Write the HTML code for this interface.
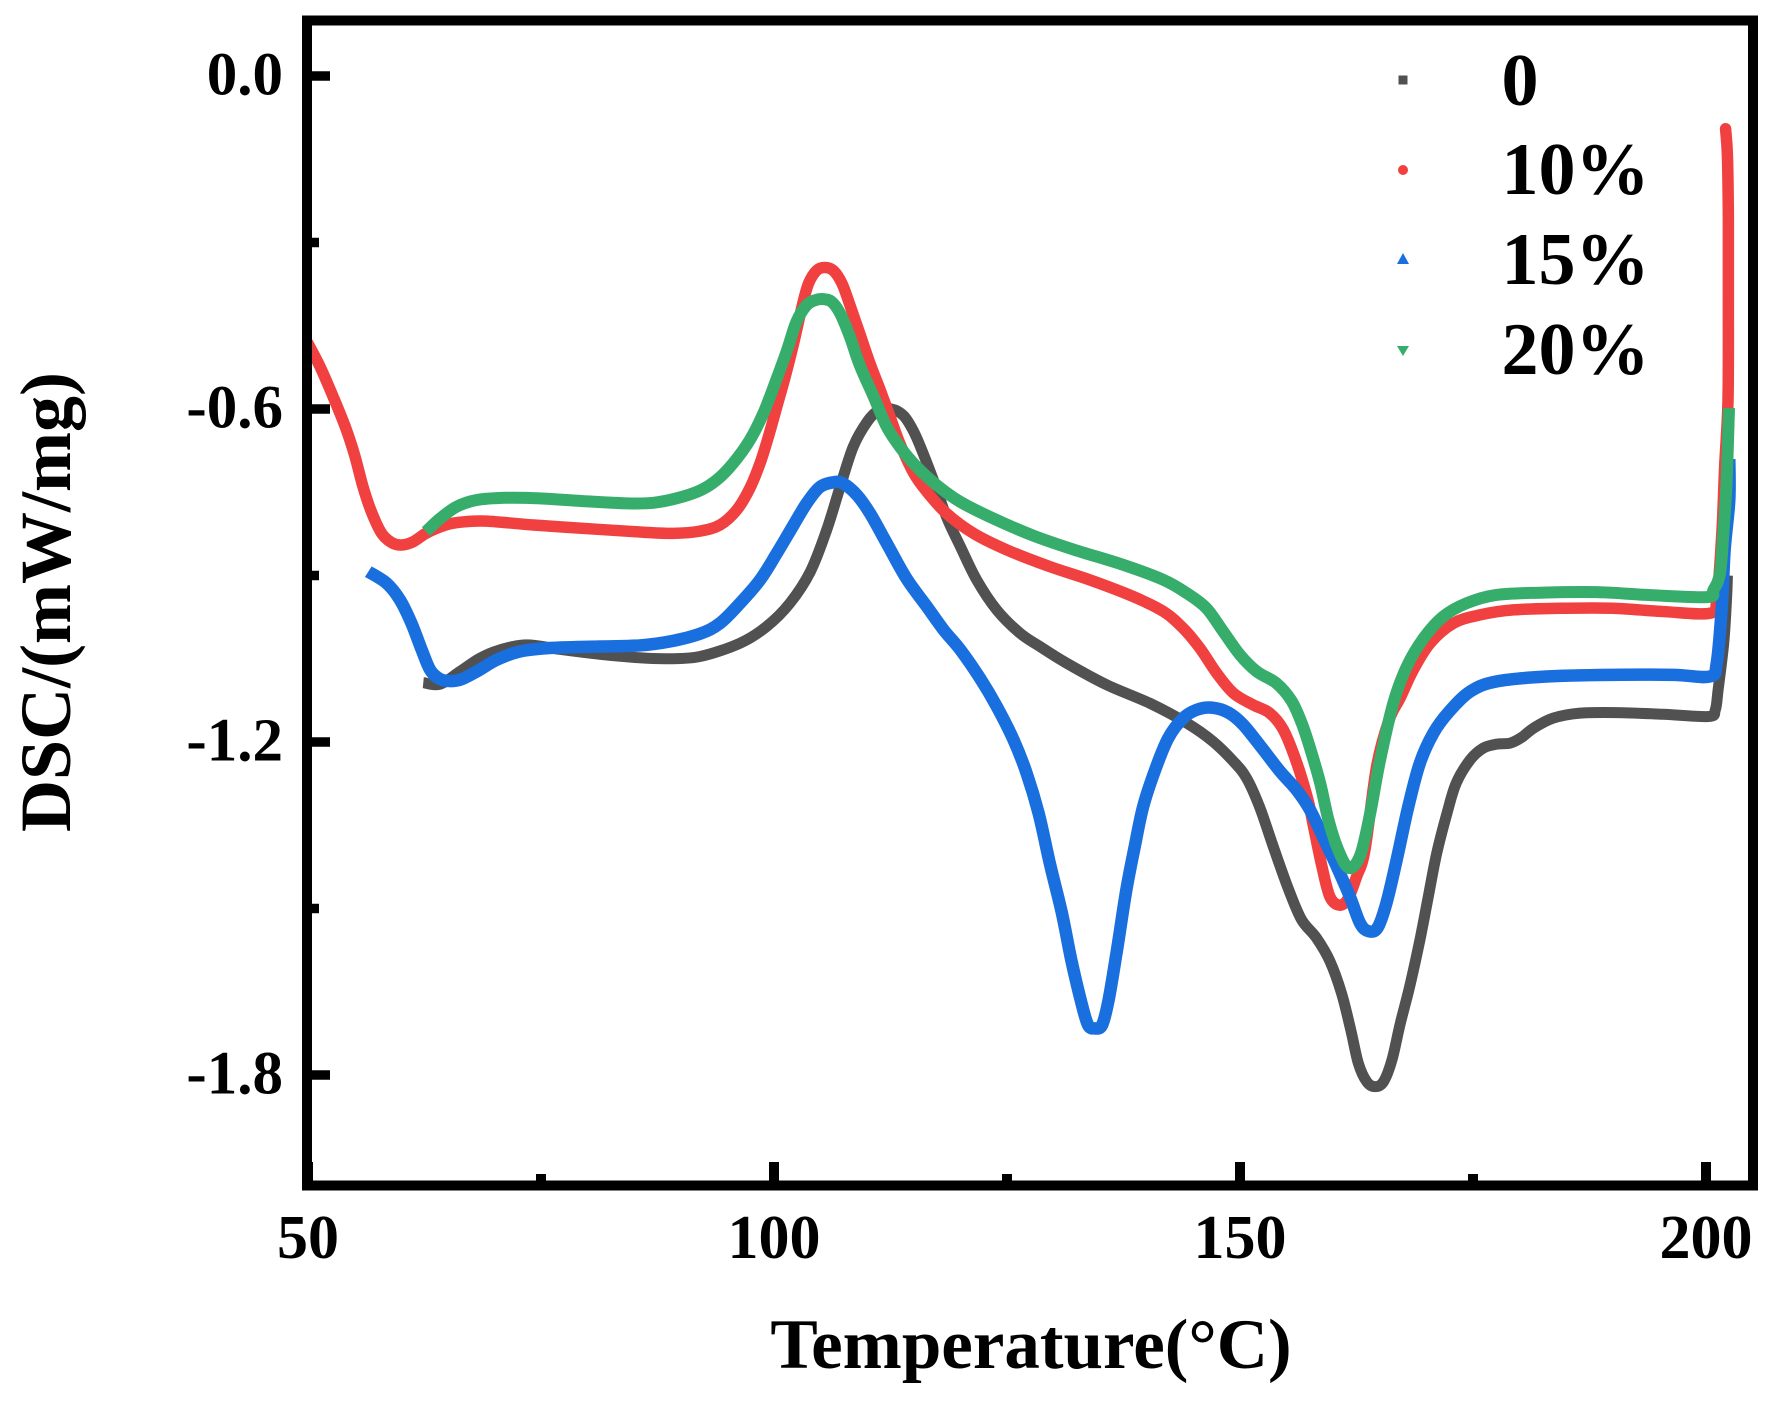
<!DOCTYPE html>
<html lang="en">
<head>
<meta charset="utf-8">
<title>DSC curves</title>
<style>
html,body{margin:0;padding:0;background:#fff;}
svg{display:block;}
text{font-family:"Liberation Serif",serif;font-weight:bold;fill:#000;}
</style>
</head>
<body>
<svg id="chart" xmlns="http://www.w3.org/2000/svg" width="1776" height="1408" viewBox="0 0 1776 1408">
  <rect x="0" y="0" width="1776" height="1408" fill="#fff"/>
  <g id="series-layer"></g>
  <g id="axis-layer"></g>
  <g id="legend-layer"></g>
  <text x="1031" y="1368" font-size="71" text-anchor="middle">Temperature(°C)</text>
  <text transform="translate(70 602) rotate(-90)" font-size="72" text-anchor="middle">DSC/(mW/mg)</text>
</svg>
<script>
const xMajorTicks = [50, 100, 150, 200];
const xMinorTicks = [75, 125, 175];
const yMajorTicks = [0, -0.6, -1.2, -1.8];
const yMinorTicks = [-0.3, -0.9, -1.5];
const xTickLabels = ['50', '100', '150', '200'];
const yTickLabels = ['0.0', '-0.6', '-1.2', '-1.8'];
const legendLabels = ['0', '10%', '15%', '20%'];

const temp0 = [62.37,64.16,66.3,68.45,70.6,73.46,77,81.3,85.3,88.5,92.05,96.35,99.2,101.7,103.9,105.65,107.1,108.5,110,111.2,112.6,113.9,115,116,117.1,118.5,120,121.75,123.9,126.4,128.54,131.4,135.7,140.3,144.3,147.1,149.3,150.7,152.1,153.6,155.2,156.6,158.2,159.65,160.9,161.9,162.7,163.6,164.5,165.4,166.3,167.2,168.2,169.3,170.2,171.1,172.2,173.2,174.7,176.1,177.5,179,180.2,181.5,183.6,186.5,190.4,195.4,200.25,201,201.3,201.9,202.2,202.3];
const dsc0 = [-1.093,-1.096,-1.073,-1.049,-1.034,-1.025,-1.033,-1.042,-1.048,-1.05,-1.046,-1.022,-0.992,-0.95,-0.893,-0.818,-0.74,-0.668,-0.623,-0.603,-0.6,-0.612,-0.641,-0.68,-0.728,-0.794,-0.848,-0.908,-0.962,-1.004,-1.028,-1.058,-1.097,-1.13,-1.166,-1.199,-1.235,-1.265,-1.317,-1.39,-1.465,-1.52,-1.553,-1.595,-1.653,-1.72,-1.779,-1.812,-1.821,-1.812,-1.773,-1.707,-1.641,-1.557,-1.479,-1.401,-1.329,-1.274,-1.232,-1.211,-1.204,-1.202,-1.192,-1.175,-1.157,-1.148,-1.147,-1.15,-1.154,-1.142,-1.106,-1.022,-0.944,-0.9];

const temp10 = [50,51.3,52.7,54,55,55.9,56.8,57.9,59,60.05,61.3,62.55,63.8,65.2,67,69.2,74.2,81.3,86,89.2,92.06,94.2,96,97.4,98.5,99.4,100.3,101.2,102.1,103,103.7,104.6,105.5,106.4,107.3,108.15,109.2,110.3,111.4,112.45,113.5,115,116.4,118.5,121.4,125,129.6,133.9,138.55,141.8,143.9,145.7,147.5,149.3,151.4,153.2,154.65,156.1,157.3,157.9,158.8,159.65,160.7,161.6,162.5,163.4,164.66,166,167.2,168.6,170.4,172.9,175.75,179.3,184.7,190,195.4,200.4,201.15,201.7,202,202.36,202.4,202.4,202.3,202.1];
const dsc10 = [-0.482,-0.524,-0.578,-0.632,-0.683,-0.74,-0.785,-0.824,-0.841,-0.845,-0.839,-0.825,-0.815,-0.807,-0.803,-0.802,-0.809,-0.817,-0.822,-0.824,-0.82,-0.809,-0.782,-0.743,-0.698,-0.65,-0.596,-0.542,-0.482,-0.416,-0.374,-0.35,-0.345,-0.351,-0.374,-0.413,-0.464,-0.518,-0.566,-0.614,-0.662,-0.716,-0.749,-0.788,-0.824,-0.854,-0.884,-0.908,-0.938,-0.965,-0.995,-1.031,-1.076,-1.112,-1.133,-1.148,-1.178,-1.238,-1.305,-1.353,-1.425,-1.479,-1.494,-1.482,-1.443,-1.395,-1.244,-1.16,-1.12,-1.07,-1.022,-0.986,-0.971,-0.962,-0.959,-0.959,-0.965,-0.968,-0.944,-0.824,-0.704,-0.584,-0.4,-0.26,-0.144,-0.095];

const temp15 = [56.47,58.44,59.87,61.1,62.2,63.1,64,64.9,66.3,68.1,70.24,72.7,75.6,81.3,85.6,88.8,92.05,94.2,96.35,98.5,100.3,102.1,103.5,104.9,106.4,107.4,108.9,110.3,112.1,114.2,116.4,118.2,120,122.1,123.9,125.7,127.1,128.4,129.6,130.9,131.9,133,133.7,134.4,135.2,135.9,136.8,137.8,138.7,139.6,140.9,142.3,143.9,145.35,146.96,148.75,150.35,152.5,154.3,156.1,157.5,158.9,160.4,161.8,162.9,163.8,164.75,165.7,166.8,168.05,169.3,170.75,172.4,174.7,177.5,182.9,190,196.5,200.4,201.15,201.7,202,202.5,202.5];
const dsc15 = [-0.893,-0.914,-0.944,-0.986,-1.034,-1.07,-1.085,-1.09,-1.088,-1.073,-1.052,-1.037,-1.031,-1.028,-1.026,-1.019,-1.005,-0.986,-0.95,-0.908,-0.86,-0.809,-0.77,-0.741,-0.732,-0.734,-0.755,-0.788,-0.842,-0.905,-0.956,-0.998,-1.034,-1.085,-1.136,-1.196,-1.256,-1.329,-1.419,-1.509,-1.593,-1.671,-1.71,-1.716,-1.71,-1.665,-1.575,-1.467,-1.389,-1.317,-1.25,-1.193,-1.157,-1.142,-1.138,-1.147,-1.169,-1.214,-1.253,-1.287,-1.322,-1.371,-1.425,-1.479,-1.527,-1.541,-1.535,-1.491,-1.413,-1.317,-1.238,-1.184,-1.146,-1.109,-1.091,-1.082,-1.079,-1.079,-1.082,-1.058,-0.956,-0.854,-0.764,-0.69];

const temp20 = [62.66,64.2,65.95,68.1,71.3,74.9,79.5,84.2,87.05,89.55,92.05,93.85,95.6,97.4,98.85,100.1,101.4,102.4,103.5,104.4,105.3,106.2,107.1,108.15,109.2,110.7,112.1,113.5,115.3,117.45,119.96,123.5,127.8,132.1,137.5,141.8,144.3,146.4,148.2,150,151.8,153.9,155.5,156.6,157.5,158.6,159.5,160.55,161.7,162.9,163.95,165,166.45,167.9,169.7,171.8,174.3,177.5,182.2,188.3,193.6,200.07,200.8,201.5,201.86,202.2,202.47];
const dsc20 = [-0.821,-0.797,-0.776,-0.764,-0.76,-0.761,-0.766,-0.77,-0.769,-0.761,-0.747,-0.728,-0.698,-0.656,-0.608,-0.554,-0.494,-0.443,-0.413,-0.404,-0.402,-0.407,-0.428,-0.47,-0.521,-0.578,-0.632,-0.668,-0.704,-0.737,-0.767,-0.797,-0.828,-0.853,-0.881,-0.908,-0.932,-0.959,-1.001,-1.043,-1.073,-1.094,-1.125,-1.165,-1.21,-1.274,-1.341,-1.395,-1.427,-1.404,-1.33,-1.235,-1.13,-1.064,-1.013,-0.974,-0.95,-0.935,-0.931,-0.93,-0.935,-0.939,-0.926,-0.896,-0.824,-0.734,-0.598];

const NS = 'http://www.w3.org/2000/svg';
const xScale = t => 308 + (t - 50) * 9.32;
const yScale = v => 76 - v * 555;

function smoothPath(xs, ys) {
  const pts = xs.map((t, i) => [xScale(t), yScale(ys[i])]);
  let d = 'M' + pts[0][0].toFixed(2) + ' ' + pts[0][1].toFixed(2);
  for (let i = 0; i < pts.length - 1; i++) {
    const p0 = pts[Math.max(i - 1, 0)];
    const p1 = pts[i];
    const p2 = pts[i + 1];
    const p3 = pts[Math.min(i + 2, pts.length - 1)];
    const c1x = p1[0] + (p2[0] - p0[0]) / 6;
    const c1y = p1[1] + (p2[1] - p0[1]) / 6;
    const c2x = p2[0] - (p3[0] - p1[0]) / 6;
    const c2y = p2[1] - (p3[1] - p1[1]) / 6;
    d += 'C' + c1x.toFixed(2) + ' ' + c1y.toFixed(2) + ' ' + c2x.toFixed(2) + ' ' + c2y.toFixed(2) + ' ' + p2[0].toFixed(2) + ' ' + p2[1].toFixed(2);
  }
  return d;
}

function make(tag, attrs, parent) {
  const el = document.createElementNS(NS, tag);
  for (const k in attrs) el.setAttribute(k, attrs[k]);
  parent.appendChild(el);
  return el;
}

const seriesLayer = document.getElementById('series-layer');
const axisLayer = document.getElementById('axis-layer');
const legendLayer = document.getElementById('legend-layer');

const line0 = make('path', {d: smoothPath(temp0, dsc0), fill: 'none', stroke: '#515151', 'stroke-width': 11, 'stroke-linejoin': 'round'}, seriesLayer);


const line10 = make('path', {d: smoothPath(temp10, dsc10), fill: 'none', stroke: '#F14040', 'stroke-width': 11.5, 'stroke-linejoin': 'round', 'stroke-linecap': 'round'}, seriesLayer);


const line15 = make('path', {d: smoothPath(temp15, dsc15), fill: 'none', stroke: '#1A6FDF', 'stroke-width': 12.5, 'stroke-linejoin': 'round'}, seriesLayer);


const line20 = make('path', {d: smoothPath(temp20, dsc20), fill: 'none', stroke: '#37AD6B', 'stroke-width': 12, 'stroke-linejoin': 'round'}, seriesLayer);



const frame = make('rect', {x: 307, y: 20.5, width: 1446, height: 1165, fill: 'none', stroke: '#000', 'stroke-width': 10}, axisLayer);



xMajorTicks.forEach((t, i) => {
  const tick = make('line', {x1: xScale(t), x2: xScale(t), y1: 1185, y2: 1162, stroke: '#000', 'stroke-width': 10}, axisLayer);
  
  
  const label = make('text', {x: xScale(t), y: 1258, 'font-size': 62, 'text-anchor': 'middle'}, axisLayer);
  
  
  label.textContent = xTickLabels[i];
});
xMinorTicks.forEach(t => {
  const tick = make('line', {x1: xScale(t), x2: xScale(t), y1: 1185, y2: 1174, stroke: '#000', 'stroke-width': 10}, axisLayer);
  
  
});
yMajorTicks.forEach((v, i) => {
  const tick = make('line', {x1: 308, x2: 330, y1: yScale(v), y2: yScale(v), stroke: '#000', 'stroke-width': 9.5}, axisLayer);
  
  
  const label = make('text', {x: 283, y: yScale(v) + 18.5, 'font-size': 61, 'text-anchor': 'end'}, axisLayer);
  
  
  label.textContent = yTickLabels[i];
});
yMinorTicks.forEach(v => {
  const tick = make('line', {x1: 308, x2: 319, y1: yScale(v), y2: yScale(v), stroke: '#000', 'stroke-width': 9.5}, axisLayer);
  
  
});

const legendSquare = make('rect', {x: 1398.5, y: 75.5, width: 9, height: 9, fill: '#515151'}, legendLayer);


const legendCircle = make('circle', {cx: 1403, cy: 170, r: 5, fill: '#F14040'}, legendLayer);


const legendUp = make('polygon', {points: '1403,253 1409,264 1397,264', fill: '#1A6FDF'}, legendLayer);


const legendDown = make('polygon', {points: '1397,346 1409,346 1403,356', fill: '#37AD6B'}, legendLayer);



const legendBaselines = [105, 194, 284, 374];
legendLabels.forEach((s, i) => {
  const label = make('text', {x: 1501.5, y: legendBaselines[i], 'font-size': 74}, legendLayer);
  
  
  label.textContent = s;
});
</script>
</body>
</html>
